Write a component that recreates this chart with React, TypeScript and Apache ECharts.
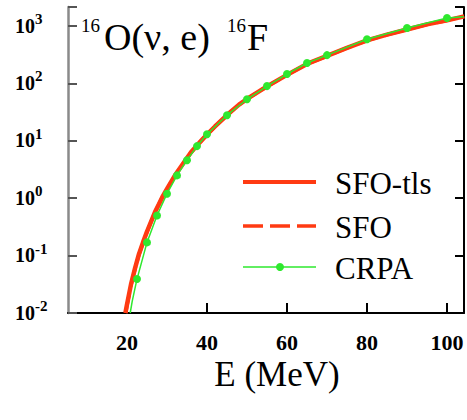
import React, { useEffect, useRef } from "react";
import * as echarts from "echarts";

// E (MeV) and cross-section values
const sfoTlsE = [19.6, 20, 21, 22, 23, 24, 25, 26, 27, 28, 29, 30, 32, 34, 36, 38, 40, 42, 45, 48, 50, 55, 60, 65, 70, 75, 80, 85, 90, 95, 100, 104.3];
const sfoTlsV = [0.01, 0.0141, 0.0316, 0.06, 0.107, 0.17, 0.263, 0.389, 0.575, 0.794, 1.1, 1.45, 2.51, 3.98, 6.31, 9.12, 12.9, 17.8, 28.2, 42.7, 53.7, 89, 141, 219, 302, 417, 562, 708, 871, 1072, 1259, 1479];

const sfoE = [19.7, 20, 21, 22, 23, 24, 25, 26, 27, 28, 29, 30, 32, 34, 36, 38, 40, 42, 45, 48, 50, 55, 60, 65, 70, 75, 80, 85, 90, 95, 100, 104.3];
const sfoV = [0.01, 0.0135, 0.03, 0.058, 0.104, 0.166, 0.258, 0.382, 0.565, 0.785, 1.08, 1.43, 2.48, 3.95, 6.25, 9.05, 12.8, 17.7, 28.0, 42.5, 53.5, 88.5, 140, 218, 300, 415, 560, 705, 868, 1068, 1255, 1475];

const crpaE = [20.8, 21.3, 21.9, 22.5, 25, 27.5, 30, 32.5, 35, 37.5, 40, 45, 50, 55, 60, 65, 70, 80, 90, 100, 104.2];
const crpaV = [0.01, 0.016, 0.025, 0.039, 0.17, 0.5, 1.2, 2.5, 4.6, 8.1, 13, 28, 53, 90, 146, 227, 312, 590, 925, 1380, 1450];
const crpaMarked = [false, false, false, true, true, true, true, true, true, true, true, true, true, true, true, true, true, true, true, true, false];

const xTicks = [20, 40, 60, 80, 100];
const yTickExps = [-2, -1, 0, 1, 2, 3];
const seriesNames = ["SFO-tls", "SFO", "CRPA"];
const xAxisName = "E (MeV)";

const RED = "#ff3a12";
const GREEN = "#2ee82e";
const SERIF = "'Liberation Serif', 'Times New Roman', serif";

export default function App() {
  const ref = useRef<HTMLDivElement>(null);
  useEffect(() => {
    if (!ref.current) return;
    const chart = echarts.init(ref.current, null, { renderer: "svg" });
    const yCommon = {
      type: "log" as const,
      logBase: 10,
      min: 0.01,
      max: 2150,
      splitLine: { show: false },
      axisLabel: { show: false },
    };
    chart.setOption({
      animation: false,
      backgroundColor: "#ffffff",
      grid: { left: 68, right: 3, top: 7, bottom: 107, containLabel: false },
      xAxis: {
        type: "value",
        min: 5.25,
        max: 104.25,
        axisLine: { lineStyle: { color: "#000", width: 2 } },
        axisTick: { inside: true, length: 10, customValues: xTicks, lineStyle: { color: "#000", width: 2 } },
        axisLabel: { show: false },
        splitLine: { show: false },
      },
      yAxis: [
        {
          ...yCommon,
          position: "left",
          axisLine: { show: true, lineStyle: { color: "#8a8a8a", width: 2.5 } },
          axisTick: { show: true, inside: true, length: 9, lineStyle: { color: "#555", width: 2 } },
        },
        {
          ...yCommon,
          position: "right",
          axisLine: { show: true, lineStyle: { color: "#000", width: 2 } },
          axisTick: { show: true, inside: true, length: 9, lineStyle: { color: "#000", width: 2 } },
        },
      ],
      series: [
        {
          name: seriesNames[0],
          type: "line",
          yAxisIndex: 0,
          symbol: "none",
          z: 2,
          lineStyle: { color: RED, width: 4.5 },
          itemStyle: { color: RED },
          data: sfoTlsE.map((e, i) => [e, sfoTlsV[i]]),
        },
        {
          name: seriesNames[1],
          type: "line",
          yAxisIndex: 0,
          symbol: "none",
          z: 2,
          lineStyle: { color: RED, width: 3.5, type: [20, 7] },
          itemStyle: { color: RED },
          data: sfoE.map((e, i) => [e, sfoV[i]]),
        },
        {
          name: seriesNames[2],
          type: "line",
          yAxisIndex: 0,
          symbol: "circle",
          symbolSize: 8,
          z: 3,
          lineStyle: { color: GREEN, width: 1.5 },
          itemStyle: { color: GREEN },
          data: crpaE.map((e, i) =>
            crpaMarked[i] ? [e, crpaV[i]] : { value: [e, crpaV[i]], symbol: "none" }
          ),
        },
      ],
    });

    // tick labels placed through the axes' own scales
    const xLabelEls = xTicks.map((v) => ({
      type: "text",
      x: chart.convertToPixel({ xAxisIndex: 0 }, v) as number,
      y: 331,
      style: { text: String(v), font: `bold 22px ${SERIF}`, fill: "#000", align: "center", verticalAlign: "top" },
    }));
    const yLabelEls = yTickExps.map((ex) => ({
      type: "text",
      x: 15,
      y: (chart.convertToPixel({ yAxisIndex: 0 }, Math.pow(10, ex)) as number) - 2.5,
      style: {
        text: `{b|10}{s|${ex}}`,
        font: `bold 20px ${SERIF}`,
        align: "left",
        verticalAlign: "middle",
        rich: {
          b: { font: `bold 20px ${SERIF}`, fill: "#000", lineHeight: 24, verticalAlign: "bottom" },
          s: { font: `bold 15px ${SERIF}`, fill: "#000", lineHeight: 15, verticalAlign: "top" },
        },
      },
    }));
    const legendRows = [182, 226, 267];
    const legendEls: any[] = [
      { type: "line", shape: { x1: 243, y1: legendRows[0], x2: 316, y2: legendRows[0] }, style: { stroke: RED, lineWidth: 4 } },
      { type: "line", shape: { x1: 243, y1: legendRows[1], x2: 316, y2: legendRows[1] }, style: { stroke: RED, lineWidth: 3.5, lineDash: [20, 7] } },
      { type: "line", shape: { x1: 243, y1: legendRows[2], x2: 316, y2: legendRows[2] }, style: { stroke: GREEN, lineWidth: 1.5 } },
      { type: "circle", shape: { cx: 280, cy: legendRows[2], r: 4 }, style: { fill: GREEN } },
      ...seriesNames.map((n, i) => ({
        type: "text",
        x: 335,
        y: legendRows[i] + 1,
        style: { text: n, font: `31px ${SERIF}`, fill: "#000", align: "left", verticalAlign: "middle" },
      })),
    ];
    chart.setOption({
      graphic: [
        { type: "text", left: 81, top: 16, style: { text: "16", font: `19px ${SERIF}`, fill: "#000" } },
        { type: "text", left: 104, top: 18, style: { text: "O(ν, e)", font: `38px ${SERIF}`, fill: "#000" } },
        { type: "text", left: 227, top: 16, style: { text: "16", font: `19px ${SERIF}`, fill: "#000" } },
        { type: "text", left: 247, top: 18, style: { text: "F", font: `38px ${SERIF}`, fill: "#000" } },
        { type: "text", x: 277, y: 357, style: { text: xAxisName, font: `35px ${SERIF}`, fill: "#000", align: "center", verticalAlign: "top" } },
        ...xLabelEls,
        ...yLabelEls,
        ...legendEls,
      ],
    });
    return () => chart.dispose();
  }, []);
  return <div ref={ref} style={{ position: "fixed", left: 0, top: 0, width: 467, height: 420 }} />;
}
